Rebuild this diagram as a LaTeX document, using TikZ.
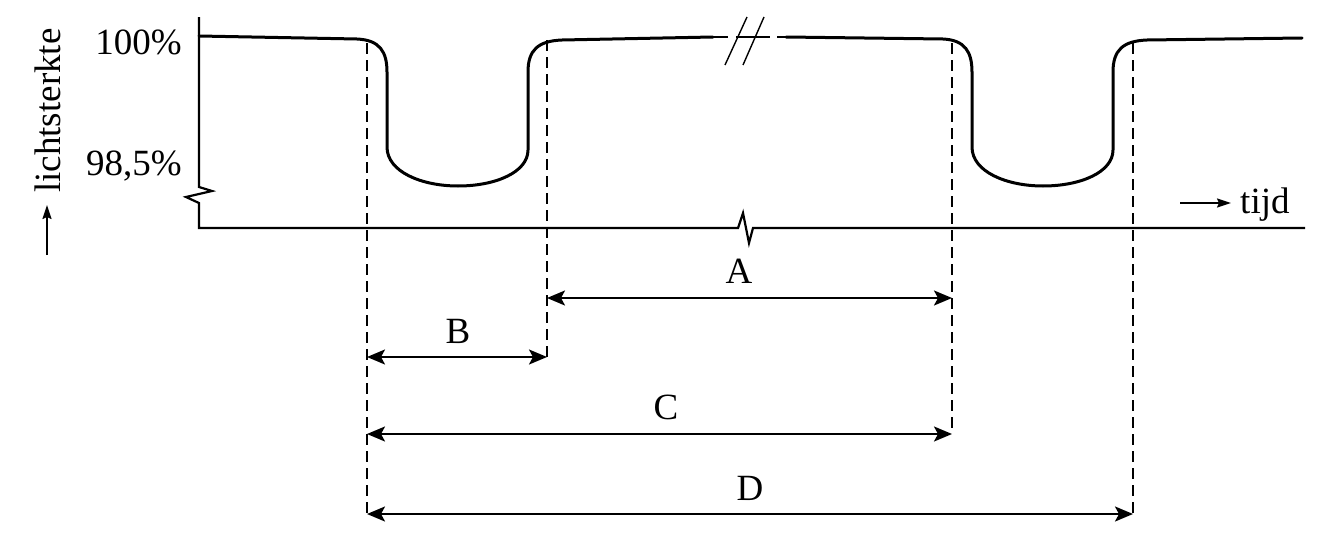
\documentclass[tikz,border=0pt]{standalone}
\usepackage{fontspec}
\setmainfont{Liberation Serif}
\usetikzlibrary{arrows.meta}
\begin{document}
\begin{tikzpicture}[x=1pt,y=-1pt,
  curve/.style={line width=3pt,line join=round,line cap=round},
  thincurve/.style={line width=1.4pt},
  axisline/.style={line width=2.2pt,line join=miter},
  guide/.style={line width=1.4pt,dash pattern=on 11pt off 6pt},
  dim/.style={line width=2.2pt,{Stealth[length=18pt,width=15pt,inset=4pt]}-{Stealth[length=18pt,width=15pt,inset=4pt]}},
  smallarrow/.style={line width=1.6pt,-{Stealth[length=14pt,width=9pt,inset=2pt]}},
  lbl/.style={inner sep=0pt,font=\fontsize{37}{44}\selectfont}
]
\useasboundingbox (0,0) rectangle (1328,546);

% axes with breaks
\draw[axisline] (199,17) -- (199,187) -- (212,191) -- (186,197) -- (199,203) -- (199,228)
  -- (738,228) -- (743,213) -- (749,243) -- (753,228) -- (1305,228);

% light curve
\draw[curve] (199,36) -- (357,39) .. controls (380,40) and (387,52) .. (387,72) -- (387,147)
  .. controls (387,172) and (422,186) .. (458,186) .. controls (496,186) and (528,172) .. (528,150)
  -- (528,72) .. controls (528,50) and (538,41) .. (562,40) -- (713,37);
\draw[thincurve] (713,37) -- (728,37) (736,37) -- (770,37) (777,37) -- (786,37);
\draw[thincurve] (725,65) -- (747,17) (743,65) -- (764,17);
\draw[curve] (786,37) -- (943,39) .. controls (965,40) and (972,52) .. (972,72) -- (972,147)
  .. controls (972,172) and (1007,186) .. (1043,186) .. controls (1081,186) and (1113,172) .. (1113,150)
  -- (1113,72) .. controls (1113,50) and (1123,41) .. (1147,40) -- (1302,38);

% guide coordinates
\coordinate (d1top) at (367,43);  \coordinate (d1bot) at (367,514);
\coordinate (d2top) at (547,40);  \coordinate (d2bot) at (547,357);
\coordinate (d3top) at (952,43);  \coordinate (d3bot) at (952,434);
\coordinate (d4top) at (1133,43); \coordinate (d4bot) at (1133,514);
\draw[guide] (d1top) -- (d1bot);
\draw[guide] (d2top) -- (d2bot);
\draw[guide] (d3top) -- (d3bot);
\draw[guide] (d4top) -- (d4bot);

% dimension arrows
\coordinate (a1) at (547,298); \coordinate (a2) at (952,298);
\coordinate (b1) at (367,357); \coordinate (b2) at (547,357);
\coordinate (c1) at (367,434); \coordinate (c2) at (952,434);
\coordinate (e1) at (367,514); \coordinate (e2) at (1133,514);
\draw[dim] (a1) -- (a2);
\draw[dim] (b1) -- (b2);
\draw[dim] (c1) -- (c2);
\draw[dim] (e1) -- (e2);

\node[lbl] (labA) at (739,271) {A};
\node[lbl] (labB) at (458,331) {B};
\node[lbl] (labC) at (666,407) {C};
\node[lbl] (labD) at (750,488) {D};

% axis labels
\node[lbl,anchor=base east] (p100) at (182,54) {100\%};
\node[lbl,anchor=base east] (p985) at (182,175) {98,5\%};
\node[lbl,anchor=base west,rotate=90] (ylab) at (60,193) {lichtsterkte};
\coordinate (yarr0) at (47,255); \coordinate (yarr1) at (47,205);
\draw[smallarrow] (yarr0) -- (yarr1);
\node[lbl,anchor=base west] (xlab) at (1240,213) {tijd};
\coordinate (xarr0) at (1180,203); \coordinate (xarr1) at (1231,203);
\draw[smallarrow] (xarr0) -- (xarr1);
\end{tikzpicture}
\end{document}
